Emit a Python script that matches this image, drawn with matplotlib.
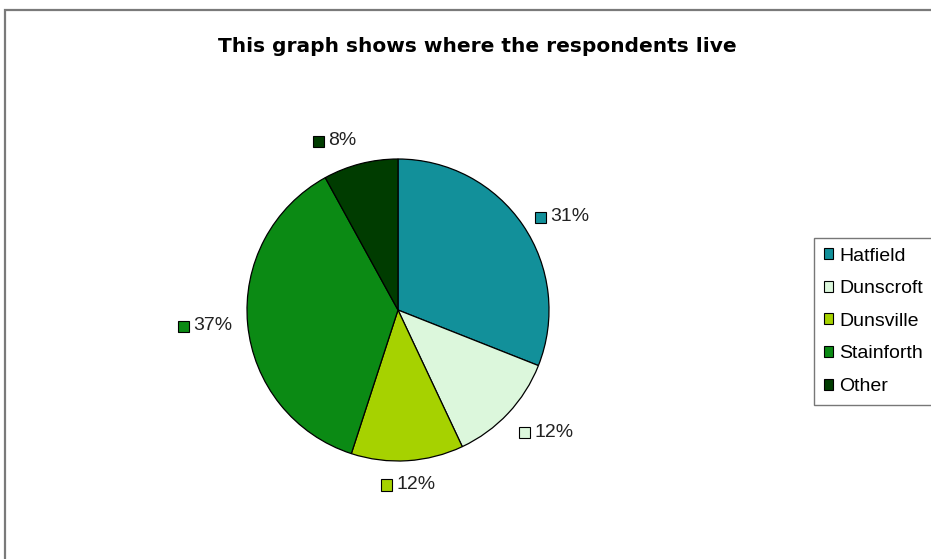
import matplotlib
matplotlib.use("Agg")
import matplotlib.pyplot as plt
import numpy as np
from matplotlib.patches import Rectangle
from matplotlib.offsetbox import AnnotationBbox, HPacker, DrawingArea, TextArea

# data
places = ['Hatfield', 'Dunscroft', 'Dunsville', 'Stainforth', 'Other']
shares = [31, 12, 12, 37, 8]
colours = ['#12909a', '#dcf7dc', '#a6d200', '#0b8a14', '#003c00']
title = 'This graph shows where the respondents live'

fig = plt.figure(figsize=(9.31, 5.59), dpi=100)
fig.patch.set_facecolor('white')

# outer chart frame (runs off the right and bottom edges)
fig.patches.append(Rectangle((5 / 931, -0.05), 1.0, 1 - 10 / 559 + 0.05,
                             transform=fig.transFigure, fill=False,
                             edgecolor='#7a7a7a', linewidth=1.6))

fig.text(477 / 931, 1 - 47 / 559, title, ha='center', va='center',
         fontsize=14.5, fontweight='bold', family='DejaVu Sans')

# pie axes: centre (398, 310), radius 151 px
cx, cy, rad = 398, 310, 151
ax = fig.add_axes([(cx - rad) / 931, (559 - cy - rad) / 559, 2 * rad / 931, 2 * rad / 559])
wedges, _ = ax.pie(shares, colors=colours, startangle=90, counterclock=False,
                   radius=1.0, wedgeprops=dict(edgecolor='black', linewidth=0.9))
ax.set_xlim(-1, 1)
ax.set_ylim(-1, 1)
ax.set_aspect('equal')
ax.axis('off')

# labels: small square + percent text
start = 0.0
for share, col in zip(shares, colours):
    mid = np.radians((start + share / 2) / 100 * 360)
    start += share
    x, y = 1.1 * np.sin(mid), 1.1 * np.cos(mid)
    box = DrawingArea(9, 9, 0, 0)
    box.add_artist(Rectangle((0, 0), 8, 8, facecolor=col, edgecolor='black', linewidth=0.8))
    txt = TextArea(f'{share}%', textprops=dict(fontsize=14, family='Liberation Sans', color='#222222'))
    pack = HPacker(children=[box, txt], align='center', pad=0, sep=2)
    if x > 0.15:
        ha = 0.0
    elif x < -0.15 or (y > 0 and x < 0):
        ha = 1.0
    else:
        ha = 0.5
    if y > 0.7:
        va = 0.0
    elif y < -0.6:
        va = 1.0
    else:
        va = 0.5
    ab = AnnotationBbox(pack, (x, y), xycoords='data', box_alignment=(ha, va),
                        frameon=False, annotation_clip=False, pad=0)
    ax.add_artist(ab)

leg = fig.legend(wedges, places, loc='upper left', bbox_to_anchor=(814 / 931, 1 - 238 / 559),
                 frameon=True, fancybox=False, edgecolor='#555555',
                 prop=dict(family='Liberation Sans', size=14),
                 handlelength=0.5, handleheight=0.5, handletextpad=0.3,
                 labelspacing=0.8, borderpad=0.5, borderaxespad=0)
leg.get_frame().set_linewidth(1.0)
for h in leg.legend_handles:
    h.set_edgecolor('black')
    h.set_linewidth(0.8)

fig.savefig('out.png', dpi=100)
